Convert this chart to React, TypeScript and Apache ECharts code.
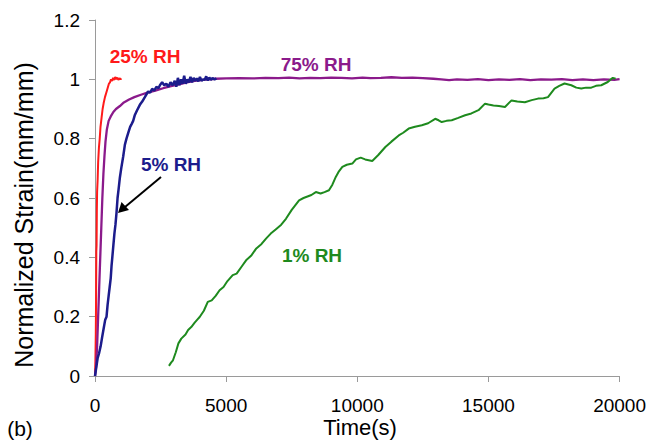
import React, { useEffect, useRef } from "react";
import * as echarts from "echarts";

const xTicks = [0, 5000, 10000, 15000, 20000];
const yTicks = [0, 0.2, 0.4, 0.6, 0.8, 1, 1.2];

const rh25: [number, number][] = [
  [0, 0], [15, 0.05], [30, 0.14], [40, 0.25], [50, 0.42], [60, 0.44], [70, 0.56], [80, 0.62],
  [100, 0.66], [120, 0.72], [150, 0.77], [180, 0.8], [210, 0.84], [250, 0.87], [290, 0.9],
  [330, 0.92], [380, 0.94], [430, 0.955], [480, 0.97], [530, 0.985], [570, 0.99], [610, 1.0],
  [650, 0.995], [690, 1.005], [730, 0.998], [770, 1.008], [810, 1.0], [850, 1.006], [890, 0.998],
  [930, 1.004], [970, 1.0], [1010, 1.003],
];

const rh75: [number, number][] = [
  [0, 0], [40, 0.03], [80, 0.1], [120, 0.2], [160, 0.3], [200, 0.4], [240, 0.5], [280, 0.6],
  [320, 0.68], [360, 0.74], [400, 0.79], [450, 0.83], [520, 0.86], [600, 0.875], [700, 0.89],
  [800, 0.9], [950, 0.91], [1100, 0.922], [1300, 0.932], [1500, 0.94], [1750, 0.948],
  [2000, 0.955], [2300, 0.962], [2600, 0.97], [2900, 0.977], [3200, 0.983], [3500, 0.99],
  [3800, 0.995], [4200, 0.999], [4600, 1.002], [5000, 1.003], [5500, 1.004], [6000, 1.003],
  [6500, 1.005], [7000, 1.004], [7400, 1.006], [7800, 1.003], [8200, 1.005], [8600, 1.004],
  [9000, 1.006], [9400, 1.005], [9800, 1.003], [10200, 1.006], [10500, 1.004], [10900, 1.005],
  [11300, 1.007], [11700, 1.005], [12100, 1.006], [12500, 1.004], [12900, 1.002], [13200, 1.0],
  [13500, 0.997], [13800, 1.0], [14200, 0.998], [14600, 1.001], [15000, 0.997], [15400, 1.0],
  [15800, 0.998], [16200, 1.001], [16600, 0.997], [17000, 1.0], [17400, 0.999], [17800, 1.001],
  [18200, 0.997], [18600, 1.0], [19000, 0.997], [19400, 1.0], [19800, 0.998], [20000, 1.001],
];

const rh5: [number, number][] = [
  [0, 0], [50, 0.03], [100, 0.06], [150, 0.075], [215, 0.1], [270, 0.13], [330, 0.16],
  [390, 0.19], [440, 0.2], [480, 0.24], [520, 0.27], [560, 0.3], [600, 0.33], [630, 0.37],
  [660, 0.4], [700, 0.44], [740, 0.48], [780, 0.51], [820, 0.55], [860, 0.6], [900, 0.63],
  [950, 0.67], [1000, 0.7], [1075, 0.74], [1140, 0.78], [1200, 0.8], [1270, 0.82], [1340, 0.84],
  [1400, 0.85], [1455, 0.86], [1520, 0.88], [1600, 0.895], [1710, 0.914], [1800, 0.925],
  [1900, 0.94], [2025, 0.959], [2100, 0.955], [2180, 0.968], [2260, 0.962], [2340, 0.975],
  [2420, 0.97], [2480, 0.981], [2560, 0.99], [2640, 0.98], [2720, 0.985], [2800, 0.975],
  [2880, 0.99], [2960, 0.98], [3040, 0.995], [3100, 0.975], [3160, 1.005], [3220, 0.98],
  [3280, 1.0], [3340, 0.985], [3400, 1.012], [3460, 0.985], [3520, 1.0], [3580, 0.99],
  [3640, 1.008], [3700, 0.99], [3760, 1.005], [3820, 0.995], [3880, 1.003], [3940, 0.993],
  [4000, 1.008], [4060, 0.995], [4120, 1.0], [4180, 0.998], [4240, 1.01], [4300, 0.996],
  [4360, 1.006], [4420, 0.998], [4480, 1.004], [4560, 1.0], [4630, 1.003],
];

const rh1: [number, number][] = [
  [2820, 0.034], [2900, 0.045], [2973, 0.053], [3080, 0.08], [3180, 0.11], [3290, 0.126],
  [3450, 0.14], [3550, 0.155], [3670, 0.165], [3800, 0.18], [3900, 0.19], [3990, 0.199],
  [4150, 0.22], [4300, 0.25], [4450, 0.255], [4600, 0.27], [4750, 0.289], [4900, 0.3],
  [5050, 0.32], [5250, 0.34], [5400, 0.345], [5600, 0.37], [5760, 0.39], [5950, 0.405],
  [6150, 0.43], [6350, 0.445], [6520, 0.463], [6700, 0.48], [6900, 0.495], [7100, 0.51],
  [7280, 0.53], [7500, 0.56], [7780, 0.592], [7950, 0.6], [8100, 0.605], [8250, 0.61],
  [8420, 0.62], [8600, 0.615], [8750, 0.62], [8920, 0.626], [9050, 0.645], [9180, 0.671],
  [9300, 0.69], [9430, 0.705], [9600, 0.712], [9810, 0.716], [9950, 0.73], [10130, 0.736],
  [10300, 0.73], [10570, 0.725], [10800, 0.745], [11070, 0.772], [11300, 0.79], [11580, 0.811],
  [11750, 0.82], [11960, 0.834], [12200, 0.84], [12460, 0.845], [12700, 0.852], [12970, 0.867],
  [13100, 0.862], [13220, 0.856], [13400, 0.86], [13600, 0.862], [13850, 0.87], [14110, 0.879],
  [14350, 0.885], [14620, 0.896], [14870, 0.918], [15000, 0.915], [15190, 0.912], [15400, 0.91],
  [15630, 0.907], [15880, 0.929], [16100, 0.925], [16390, 0.923], [16650, 0.93], [16890, 0.935],
  [17100, 0.936], [17270, 0.94], [17520, 0.969], [17700, 0.978], [17900, 0.986], [18160, 0.98],
  [18350, 0.972], [18540, 0.969], [18720, 0.972], [18920, 0.972], [19100, 0.978], [19300, 0.98],
  [19550, 0.991], [19740, 1.005], [19850, 1.002],
];

const seriesNames = ["25% RH", "75% RH", "5% RH", "1% RH"];
const seriesColors = ["#ff1a1a", "#8b1a8b", "#1c1c8c", "#1e8a1e"];

const FONT = "'Liberation Sans', Arial, Helvetica, sans-serif";

export default function App() {
  const ref = useRef<HTMLDivElement>(null);
  useEffect(() => {
    if (!ref.current) return;
    const chart = echarts.init(ref.current, null, { renderer: "svg" });
    const datasets = [rh25, rh75, rh5, rh1];
    const widths = [2, 2.3, 2.5, 2];
    const axisLineStyle = { color: "#9a9a9a", width: 1 };
    chart.setOption({
      animation: false,
      backgroundColor: "#ffffff",
      textStyle: { fontFamily: FONT },
      grid: { left: 95, right: 27, top: 20, bottom: 68, containLabel: false },
      xAxis: {
        type: "value",
        min: xTicks[0],
        max: xTicks[xTicks.length - 1],
        interval: 5000,
        axisLine: { show: true, lineStyle: axisLineStyle },
        axisTick: { show: true, length: 6, lineStyle: axisLineStyle },
        splitLine: { show: false },
        axisLabel: {
          color: "#000",
          fontSize: 19,
          margin: 20,
          fontFamily: FONT,
          formatter: (v: number) => String(v),
        },
      },
      yAxis: {
        type: "value",
        min: yTicks[0],
        max: yTicks[yTicks.length - 1],
        interval: 0.2,
        axisLine: { show: true, lineStyle: axisLineStyle },
        axisTick: { show: true, length: 6, lineStyle: axisLineStyle },
        splitLine: { show: false },
        axisLabel: {
          color: "#000",
          fontSize: 19,
          margin: 15,
          fontFamily: FONT,
          formatter: (v: number) => String(Math.round(v * 10) / 10),
        },
      },
      series: datasets.map((d, i) => ({
        name: seriesNames[i],
        type: "line",
        data: d,
        showSymbol: false,
        symbol: "none",
        lineStyle: { color: seriesColors[i], width: widths[i] },
        z: i === 2 ? 4 : 3,
      })),
      graphic: [
        {
          type: "text",
          x: 24,
          y: 215,
          rotation: Math.PI / 2,
          style: {
            text: "Normalized Strain(mm/mm)",
            fontSize: 25,
            fontFamily: FONT,
            fill: "#000",
            textAlign: "center",
            textVerticalAlign: "middle",
          },
        },
        {
          type: "text",
          x: 360,
          y: 427,
          style: {
            text: "Time(s)",
            fontSize: 22,
            fontFamily: FONT,
            fill: "#000",
            textAlign: "center",
            textVerticalAlign: "middle",
          },
        },
        {
          type: "text",
          x: 20,
          y: 428,
          style: {
            text: "(b)",
            fontSize: 21,
            fontFamily: FONT,
            fill: "#000",
            textAlign: "center",
            textVerticalAlign: "middle",
          },
        },
        {
          type: "text",
          x: 145,
          y: 56,
          style: { text: seriesNames[0], fontSize: 19, fontWeight: "bold", fontFamily: FONT, fill: seriesColors[0], textAlign: "center", textVerticalAlign: "middle" },
        },
        {
          type: "text",
          x: 316,
          y: 64,
          style: { text: seriesNames[1], fontSize: 19, fontWeight: "bold", fontFamily: FONT, fill: seriesColors[1], textAlign: "center", textVerticalAlign: "middle" },
        },
        {
          type: "text",
          x: 171,
          y: 164,
          style: { text: seriesNames[2], fontSize: 19, fontWeight: "bold", fontFamily: FONT, fill: seriesColors[2], textAlign: "center", textVerticalAlign: "middle" },
        },
        {
          type: "text",
          x: 312,
          y: 255,
          style: { text: seriesNames[3], fontSize: 19, fontWeight: "bold", fontFamily: FONT, fill: seriesColors[3], textAlign: "center", textVerticalAlign: "middle" },
        },
        {
          type: "line",
          shape: { x1: 161, y1: 177, x2: 125, y2: 207 },
          style: { stroke: "#000", lineWidth: 2 },
        },
        {
          type: "polygon",
          shape: { points: [[118, 213], [121.5, 202], [129, 210]] },
          style: { fill: "#000" },
        },
      ],
    });
    return () => chart.dispose();
  }, []);
  return (
    <div
      ref={ref}
      style={{ position: "fixed", left: 0, top: 0, width: 649, height: 444, background: "#fff" }}
    />
  );
}
